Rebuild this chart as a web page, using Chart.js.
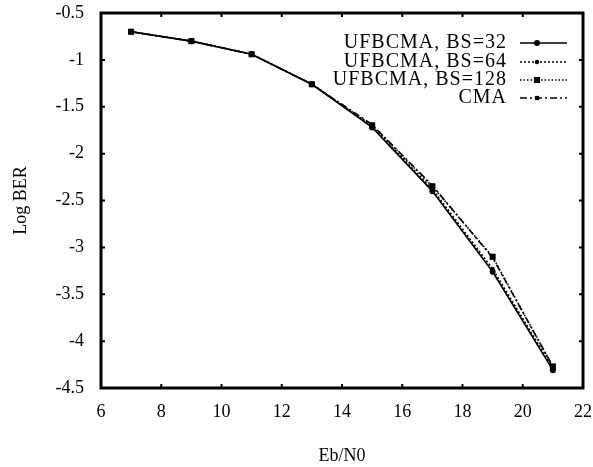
<!DOCTYPE html>
<html>
<head>
<meta charset="utf-8">
<script src="https://cdn.jsdelivr.net/npm/chart.js@4.4.1/dist/chart.umd.min.js"></script>
<style>
	html, body { margin: 0; padding: 0; background: #fff; }
	#wrap { width: 593px; height: 467px; }
</style>
</head>
<body>
<div id="wrap"><canvas id="myChart" width="593" height="467"></canvas></div>
<script>
var ebn0 = [7, 9, 11, 13, 15, 17, 19, 21];
var bs32 = [-0.70, -0.80, -0.94, -1.26, -1.72, -2.40, -3.26, -4.31];
var bs64 = [-0.70, -0.80, -0.94, -1.26, -1.71, -2.38, -3.23, -4.29];
var bs128 = [-0.70, -0.80, -0.94, -1.26, -1.70, -2.35, -3.10, -4.27];
var cma = [-0.70, -0.80, -0.94, -1.26, -1.69, -2.34, -3.11, -4.27];
var seriesNames = ["UFBCMA, BS=32", "UFBCMA, BS=64", "UFBCMA, BS=128", "CMA"];
var xTicks = [6, 8, 10, 12, 14, 16, 18, 20, 22];
var yTicks = [-0.5, -1, -1.5, -2, -2.5, -3, -3.5, -4, -4.5];

var serif = "'Liberation Serif', 'Times New Roman', serif";

function pts(vals)
{
	var out = [];
	for(var i = 0; i < vals.length; i++)
		out.push({x: ebn0[i], y: vals[i]});
	return out;
}

function datasetObj(name, vals, dash, style, radius)
{
	return {
		label: name,
		data: pts(vals),
		borderColor: "#000",
		backgroundColor: "#000",
		borderWidth: 1.6,
		borderDash: dash,
		pointStyle: style,
		pointRadius: radius,
		pointHoverRadius: radius,
		pointBorderWidth: 0,
		tension: 0
	};
}

var datasets = [
	datasetObj(seriesNames[0], bs32, [], "circle", 3),
	datasetObj(seriesNames[1], bs64, [2, 2], "circle", 2.2),
	datasetObj(seriesNames[2], bs128, [1.5, 2], "rect", 4.3),
	datasetObj(seriesNames[3], cma, [7, 3, 2, 3], "rect", 3)
];

// frame, inward ticks and the legend box in the top right
var framePlugin = {
	id: "frame",
	afterDraw: function(chart){
		var ctx = chart.ctx;
		var a = chart.chartArea;
		var xs = chart.scales.x, ys = chart.scales.y;
		ctx.save();
		ctx.strokeStyle = "#000";
		ctx.lineWidth = 3;
		ctx.strokeRect(a.left, a.top, a.right - a.left, a.bottom - a.top);
		ctx.lineWidth = 2;
		ctx.beginPath();
		for(var i = 1; i < xTicks.length - 1; i++){
			var px = xs.getPixelForValue(xTicks[i]);
			ctx.moveTo(px, a.bottom); ctx.lineTo(px, a.bottom - 4);
			ctx.moveTo(px, a.top); ctx.lineTo(px, a.top + 4);
		}
		for(var j = 1; j < yTicks.length - 1; j++){
			var py = ys.getPixelForValue(yTicks[j]);
			ctx.moveTo(a.left, py); ctx.lineTo(a.left + 4, py);
			ctx.moveTo(a.right, py); ctx.lineTo(a.right - 4, py);
		}
		ctx.stroke();

		// legend
		ctx.font = "20px " + serif;
		ctx.textAlign = "right";
		ctx.textBaseline = "middle";
		ctx.fillStyle = "#000";
		var rows = [43, 62, 80, 98];
		for(var k = 0; k < chart.data.datasets.length; k++){
			var ds = chart.data.datasets[k];
			var y = rows[k];
			ctx.letterSpacing = "1px";
			ctx.fillText(ds.label, 507, y);
			ctx.letterSpacing = "0px";
			ctx.lineWidth = 1.6;
			ctx.setLineDash(ds.borderDash);
			ctx.beginPath();
			ctx.moveTo(520, y); ctx.lineTo(567, y);
			ctx.stroke();
			ctx.setLineDash([]);
			var mx = 537;
			var r = ds.pointRadius;
			if(ds.pointStyle == "circle"){
				ctx.beginPath();
				ctx.arc(mx, y, r, 0, Math.PI * 2);
				ctx.fill();
			}else{
				var s = r * Math.SQRT1_2;
				ctx.fillRect(mx - s, y - s, 2 * s, 2 * s);
			}
		}
		ctx.restore();
	}
};

var ctx = document.getElementById("myChart");
var mChart = new Chart(ctx, {
	type: "line",
	data: { datasets: datasets },
	plugins: [framePlugin],
	options: {
		responsive: false,
		animation: false,
		layout: { padding: { top: 13, right: 10, left: 0, bottom: 0 } },
		plugins: {
			legend: { display: false },
			tooltip: { enabled: false }
		},
		scales: {
			x: {
				type: "linear",
				min: 6,
				max: 22,
				afterBuildTicks: function(scale){
					scale.ticks = xTicks.map(function(v){ return {value: v}; });
				},
				afterFit: function(scale){
					scale.height = 79;
					scale.paddingLeft = 0;
					scale.paddingRight = 0;
				},
				grid: { display: false, drawTicks: false },
				border: { display: false },
				ticks: {
					color: "#000",
					padding: 13,
					font: { family: serif, size: 18 }
				},
				title: {
					display: true,
					text: "Eb/N0",
					color: "#000",
					padding: { top: 4, bottom: 0 },
					font: { family: serif, size: 18 }
				}
			},
			y: {
				type: "linear",
				min: -4.5,
				max: -0.5,
				afterBuildTicks: function(scale){
					scale.ticks = yTicks.map(function(v){ return {value: v}; });
				},
				afterFit: function(scale){
					scale.width = 101;
					scale.paddingTop = 0;
					scale.paddingBottom = 0;
				},
				grid: { display: false, drawTicks: false },
				border: { display: false },
				ticks: {
					color: "#000",
					padding: 17,
					font: { family: serif, size: 18 },
					callback: function(v){ return String(v); }
				},
				title: {
					display: true,
					text: "Log BER",
					color: "#000",
					padding: { top: 10, bottom: 4 },
					font: { family: serif, size: 18 }
				}
			}
		}
	}
});
</script>
</body>
</html>
